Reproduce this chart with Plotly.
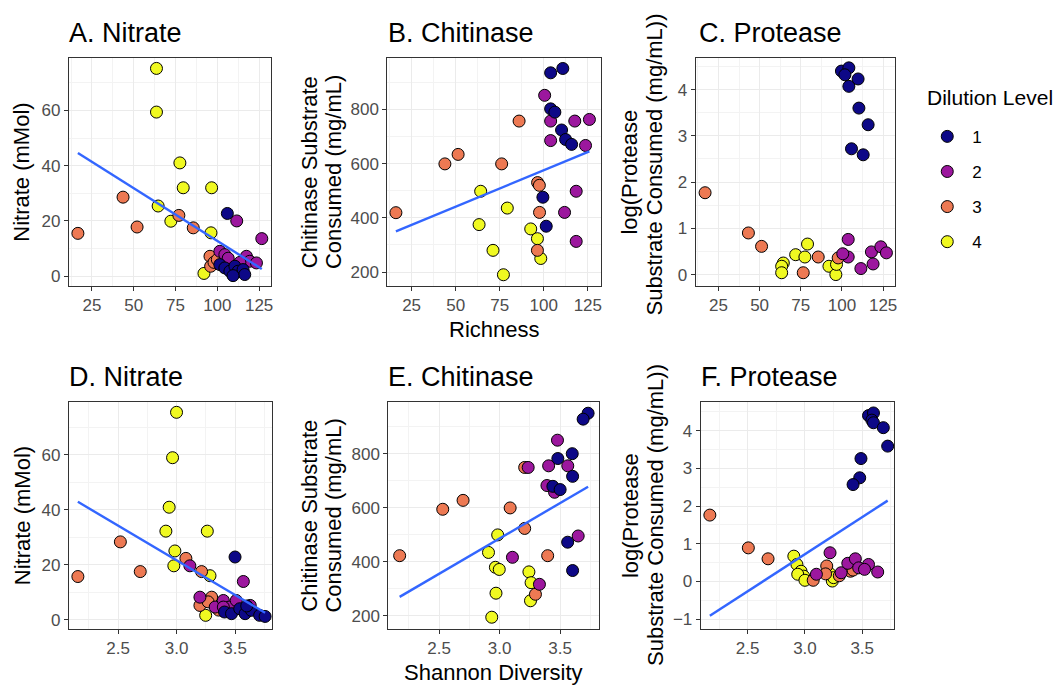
import numpy as np
import plotly.graph_objects as go
from plotly.subplots import make_subplots

# Dilution levels and their fill colours (plasma palette, 4 steps)
levels = [1, 2, 3, 4]
level_colors = ["#0D0887", "#9C179E", "#ED7953", "#F0F921"]

# A. Nitrate vs richness
a_x = [106, 101.5, 104.5, 107.5, 110.5, 112.4, 115.4, 116.4, 109.4,
       111.6, 126.6, 101.5, 104.5, 117.4, 119.4, 123.4, 106.5, 113.5,
       16.6, 43.6, 52.0, 77.0, 85.6, 95.6, 96.0, 98.0, 100.0,
       63.6, 63.6, 77.6, 79.6, 96.6, 64.6, 72.2, 96.2, 92.0]
a_y = [22.7, 4.2, 3.0, 1.8, 3.6, 1.8, 2.4, 0.6, 0.2,
       20.0, 13.6, 9.0, 7.8, 7.2, 5.4, 4.8, 6.5, 5.0,
       15.5, 28.6, 17.8, 22.0, 17.5, 7.2, 3.6, 5.0, 6.0,
       75.2, 59.4, 41.0, 32.0, 32.0, 25.4, 19.9, 15.7, 1.0]
a_lvl = [1] * 9 + [2] * 9 + [3] * 9 + [4] * 9

# B. Chitinase vs richness
b_x = [103.9, 110.8, 103.9, 106.3, 110.1, 112.4, 115.8, 99.5, 101.4,
       100.5, 103.9, 117.6, 125.9, 103.9, 123.7, 118.4, 111.8, 118.4,
       86.0, 51.4, 43.9, 76.1, 96.5, 97.5, 16.1, 97.6, 96.4,
       64.2, 79.3, 63.3, 92.6, 96.4, 71.2, 98.3, 77.1]
b_y = [935, 951, 802, 790, 724, 689, 671, 476, 369,
       852, 757, 757, 763, 685, 667, 498, 420, 313,
       757, 634, 599, 599, 530, 520, 419, 420, 280,
       498, 436, 375, 359, 323, 280, 250, 190]
b_lvl = [1] * 9 + [2] * 9 + [3] * 9 + [4] * 8

# C. Protease vs richness
c_x = [99.7, 104.2, 101.8, 104.2, 109.8, 110.3, 115.9, 105.8, 112.9,
       103.8, 103.8, 100.5, 111.5, 117.9, 118.9, 123.6, 127.0,
       16.9, 43.2, 51.2, 76.5, 85.6, 97.7,
       64.4, 63.4, 63.4, 71.9, 79.1, 77.5, 92.1, 96.3, 96.7]
c_y = [4.40, 4.47, 4.32, 4.07, 4.23, 3.60, 3.24, 2.72, 2.59,
       0.76, 0.38, 0.45, 0.13, 0.49, 0.23, 0.60, 0.47,
       1.77, 0.90, 0.61, 0.04, 0.38, 0.36,
       0.25, 0.18, 0.04, 0.43, 0.66, 0.38, 0.18, 0.00, 0.22]
c_lvl = [1] * 9 + [2] * 8 + [3] * 6 + [4] * 9

# D. Nitrate vs Shannon diversity
d_x = [3.50, 3.41, 3.47, 3.54, 3.586, 3.64, 3.71, 3.757, 3.60,
       3.114, 3.571, 3.20, 3.33, 3.40, 3.45, 3.51, 3.63, 3.40,
       2.157, 2.52, 2.69, 3.08, 3.214, 3.30, 3.20, 3.27, 3.36,
       3.0, 2.966, 2.937, 2.909, 3.263, 2.986, 2.977, 3.286, 3.249]
d_y = [22.8, 2.8, 2.2, 4.0, 2.2, 3.4, 1.6, 1.2, 5.0,
       19.6, 13.9, 8.2, 4.6, 7.0, 4.6, 7.0, 5.2, 4.6,
       15.7, 28.3, 17.5, 22.3, 17.5, 8.2, 5.2, 6.5, 3.5,
       75.4, 58.9, 40.9, 32.2, 32.2, 25.0, 19.6, 16.0, 1.6]
d_lvl = [1] * 9 + [2] * 9 + [3] * 9 + [4] * 9

# E. Chitinase vs Shannon diversity
e_x = [3.731, 3.69, 3.60, 3.481, 3.603, 3.44, 3.50, 3.562, 3.603,
       3.478, 3.405, 3.563, 3.236, 3.391, 3.454, 3.649, 3.106, 3.329,
       3.207, 2.698, 2.53, 3.087, 3.207, 2.174, 3.397, 3.296,
       2.984, 2.908, 2.965, 2.997, 3.242, 3.26, 2.97, 3.255, 2.935]
e_y = [950, 928, 800, 782, 716, 679, 667, 472, 367,
       850, 755, 755, 749, 682, 657, 495, 416, 316,
       749, 627, 594, 599, 523, 422, 422, 279,
       499, 434, 379, 371, 362, 322, 283, 255, 194]
e_lvl = [1] * 9 + [2] * 9 + [3] * 8 + [4] * 9

# F. Protease vs Shannon diversity
f_x = [3.555, 3.598, 3.584, 3.598, 3.684, 3.722, 3.489, 3.478, 3.42,
       3.10, 3.219, 3.316, 3.374, 3.44, 3.469, 3.555, 3.635, 3.52,
       2.17, 2.506, 2.678, 3.072, 3.19, 3.18, 3.397, 3.30, 3.42,
       2.903, 2.93, 2.966, 2.989, 2.937, 3.0, 3.239, 3.22, 3.25]
f_y = [4.40, 4.47, 4.28, 4.21, 4.08, 3.59, 3.26, 2.75, 2.57,
       0.19, 0.76, 0.23, 0.48, 0.60, 0.36, 0.45, 0.25, 0.32,
       1.76, 0.89, 0.60, 0.03, 0.41, 0.20, 0.27, 0.15, 0.30,
       0.67, 0.45, 0.27, 0.14, 0.19, 0.03, 0.01, 0.20, 0.10]
f_lvl = [1] * 9 + [2] * 9 + [3] * 9 + [4] * 9

W, H = 1062, 687
FONT = "Liberation Sans, Arial, sans-serif"

# panel: data, fitted line, pixel box (left, right, top, bottom), axis setup
panels = [
    dict(x=a_x, y=a_y, lvl=a_lvl, fit=True, box=(69, 272, 58, 286),
         xr=[11.2, 132.4], yr=[-3.4, 79], xd=25, yd=20, xfmt=None),
    dict(x=b_x, y=b_y, lvl=b_lvl, fit=True, box=(388, 602, 58, 286),
         xr=[11.2, 132.4], yr=[150, 990], xd=25, yd=200, xfmt=None),
    dict(x=c_x, y=c_y, lvl=c_lvl, fit=False, box=(697, 897, 58, 286),
         xr=[11.2, 132.4], yr=[-0.238, 4.685], xd=25, yd=1, xfmt=None),
    dict(x=d_x, y=d_y, lvl=d_lvl, fit=True, box=(69, 273, 403, 630),
         xr=[2.08, 3.82], yr=[-3.4, 79], xd=0.5, yd=20, xfmt=".1f"),
    dict(x=e_x, y=e_y, lvl=e_lvl, fit=True, box=(389, 600, 403, 630),
         xr=[2.08, 3.82], yr=[150, 990], xd=0.5, yd=200, xfmt=".1f"),
    dict(x=f_x, y=f_y, lvl=f_lvl, fit=True, box=(702, 896, 403, 630),
         xr=[2.09, 3.78], yr=[-1.265, 4.75], xd=0.5, yd=1, xfmt=".1f"),
]

fig = make_subplots(rows=2, cols=3)

for i, p in enumerate(panels):
    row, col = i // 3 + 1, i % 3 + 1
    xs = np.array(p["x"], dtype=float)
    ys = np.array(p["y"], dtype=float)
    lv = np.array(p["lvl"])
    for lev in reversed(levels):
        m = lv == lev
        fig.add_trace(go.Scatter(
            x=xs[m], y=ys[m], mode="markers",
            marker=dict(size=12, color=level_colors[lev - 1],
                        line=dict(color="black", width=1)),
            name=str(lev), legendgroup=str(lev), legendrank=lev,
            showlegend=(i == 0), hoverinfo="x+y",
        ), row=row, col=col)
    if p["fit"]:
        slope, icpt = np.polyfit(xs, ys, 1)
        lx = np.linspace(xs.min(), xs.max(), 80)
        fig.add_trace(go.Scatter(
            x=lx, y=icpt + slope * lx, mode="lines",
            line=dict(color="#3366FF", width=2.4),
            showlegend=False, hoverinfo="skip",
        ), row=row, col=col)

    l, r, t, b = p["box"]
    axis_common = dict(
        showline=True, mirror=True, linecolor="#333333", linewidth=1,
        ticks="outside", ticklen=4, tickcolor="#333333", tickwidth=1,
        gridcolor="#EBEBEB", gridwidth=1, zeroline=False,
        tickfont=dict(family=FONT, size=17, color="#4D4D4D"),
    )
    fig.update_xaxes(
        domain=[l / W, r / W], range=p["xr"], dtick=p["xd"], tick0=0,
        tickformat=p["xfmt"],
        minor=dict(dtick=p["xd"] / 2, tick0=0, showgrid=True,
                   gridcolor="#F3F3F3", gridwidth=1),
        row=row, col=col, **axis_common)
    fig.update_yaxes(
        domain=[1 - b / H, 1 - t / H], range=p["yr"], dtick=p["yd"], tick0=0,
        minor=dict(dtick=p["yd"] / 2, tick0=0, showgrid=True,
                   gridcolor="#F3F3F3", gridwidth=1),
        row=row, col=col, **axis_common)

annotations = []

# panel titles
titles = [("A. Nitrate", 67, 33), ("B. Chitinase", 387, 33), ("C. Protease", 698, 33),
          ("D. Nitrate", 67, 378), ("E. Chitinase", 387, 378), ("F. Protease", 700, 378)]
for text, px, py in titles:
    annotations.append(dict(
        text=text, x=px / W, y=1 - py / H, xref="paper", yref="paper",
        xanchor="left", yanchor="middle", showarrow=False,
        font=dict(family=FONT, size=27, color="black")))

# y-axis titles, one annotation per text line
ytitles = [("Nitrate (mMol)", 22, 172),
           ("Chitinase Substrate", 310, 172), ("Consumed (mg/mL)", 334, 172),
           ("log(Protease", 631, 172), ("Substrate Consumed (mg/mL))", 656, 165),
           ("Nitrate (mMol)", 22, 516),
           ("Chitinase Substrate", 310, 516), ("Consumed (mg/mL)", 334, 516),
           ("log(Protease", 631, 516), ("Substrate Consumed (mg/mL))", 656, 516)]
for text, px, py in ytitles:
    annotations.append(dict(
        text=text, x=px / W, y=1 - py / H, xref="paper", yref="paper",
        xanchor="center", yanchor="middle", textangle=-90, showarrow=False,
        font=dict(family=FONT, size=22, color="black")))

# x-axis titles
for text, px, py in [("Richness", 495, 330), ("Shannon Diversity", 494, 673)]:
    annotations.append(dict(
        text=text, x=px / W, y=1 - py / H, xref="paper", yref="paper",
        xanchor="center", yanchor="middle", showarrow=False,
        font=dict(family=FONT, size=22, color="black")))

# legend heading
annotations.append(dict(
    text="Dilution Level", x=927 / W, y=1 - 98 / H, xref="paper", yref="paper",
    xanchor="left", yanchor="middle", showarrow=False,
    font=dict(family=FONT, size=21, color="black")))

fig.update_layout(
    width=W, height=H, margin=dict(l=0, r=0, t=0, b=0),
    paper_bgcolor="white", plot_bgcolor="white",
    annotations=annotations,
    legend=dict(
        font=dict(family=FONT, size=17, color="black"),
        x=924 / W, y=1 - 119 / H, xanchor="left", yanchor="top",
        tracegroupgap=10, itemsizing="trace", itemwidth=40,
        bgcolor="rgba(0,0,0,0)",
    ),
    hovermode="closest",
)

fig.write_html("out.html")
